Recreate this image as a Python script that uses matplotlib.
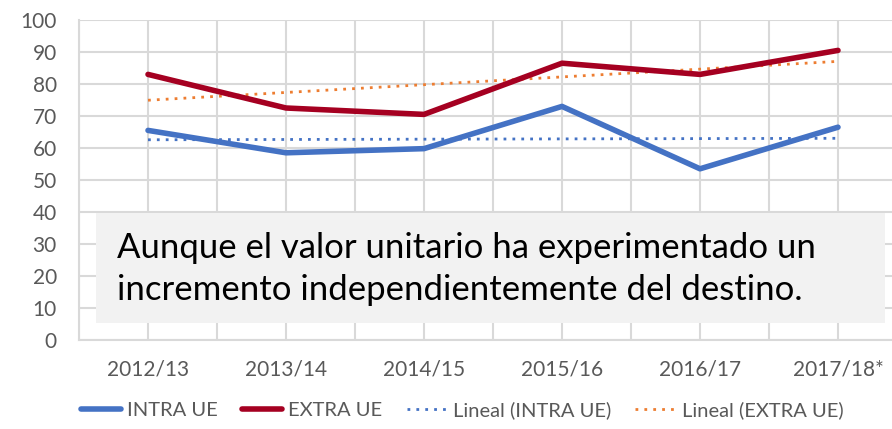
import numpy as np
import matplotlib.pyplot as plt

# data
periods = ["2012/13", "2013/14", "2014/15", "2015/16", "2016/17", "2017/18*"]
intra_ue = [65.5, 58.5, 59.8, 73.0, 53.5, 66.5]
extra_ue = [83.0, 72.5, 70.5, 86.5, 83.0, 90.5]
note = ("Aunque el valor unitario ha experimentado un\n"
        "incremento independientemente del destino.")

plt.rcParams['font.family'] = ['Lato', 'DejaVu Sans']

fig = plt.figure(figsize=(8.92, 4.29), dpi=100)
ax = fig.add_axes([79 / 892, (429 - 340) / 429, (907 - 79) / 892, 320 / 429])

x = np.arange(len(periods))

# linear trend lines (like Excel "Lineal")
fit_intra = np.polyval(np.polyfit(x, intra_ue, 1), x)
fit_extra = np.polyval(np.polyfit(x, extra_ue, 1), x)

ax.plot(x, intra_ue, color='#4472C4', lw=4, solid_capstyle='round', label='INTRA UE', zorder=4)
ax.plot(x, extra_ue, color='#A50021', lw=4, solid_capstyle='round', label='EXTRA UE', zorder=4)
ax.plot(x, fit_intra, color='#4472C4', lw=2, ls=(0, (1, 2.2)), label='Lineal (INTRA UE)', zorder=3)
ax.plot(x, fit_extra, color='#ED7D31', lw=2, ls=(0, (1, 2.2)), label='Lineal (EXTRA UE)', zorder=3)

ax.set_xlim(-0.5, len(periods) - 0.5)
ax.set_ylim(0, 100)
ax.set_yticks(range(0, 101, 10))
ax.set_xticks(x)
ax.set_xticklabels(periods)
ax.set_xticks(np.arange(-0.5, len(periods), 1.0), minor=True)

ax.grid(True, which='both', color='#d9d9d9', lw=1.5)
ax.set_axisbelow(True)
for s in ['top', 'right']:
    ax.spines[s].set_visible(False)
for s in ['left', 'bottom']:
    ax.spines[s].set_color('#d9d9d9')
    ax.spines[s].set_linewidth(1.5)
ax.tick_params(which='both', length=0)
ax.tick_params(axis='y', labelsize=15, colors='#595959', pad=16)
ax.tick_params(axis='x', labelsize=15, colors='#595959', pad=14)

# note box
fig.patches.append(plt.Rectangle((96 / 892, 1 - 323 / 429), (885 - 96) / 892, 110 / 429,
                                 transform=fig.transFigure, facecolor='#f2f2f2',
                                 edgecolor='none', zorder=5))
fig.text(117 / 892, 1 - 269 / 429, note, fontsize=25, color='black',
         va='center', ha='left', linespacing=1.42, zorder=6)

fig.legend(loc='center', bbox_to_anchor=(462 / 892, 1 - 410 / 429), ncol=4, frameon=False,
           fontsize=14.5, labelcolor='#595959',
           handlelength=2.0, handletextpad=0.3, columnspacing=1.2)

plt.savefig("out.png", dpi=100)
